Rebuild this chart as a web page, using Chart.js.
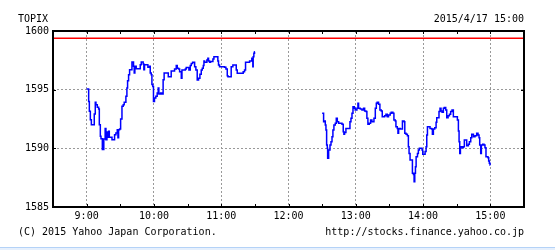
<!DOCTYPE html>
<html>
<head>
<meta charset="utf-8">
<script src="https://cdn.jsdelivr.net/npm/chart.js@4"></script>
<style>
body{margin:0;background:#fff;}
#wrap{position:relative;width:555px;height:250px;font-family:"DejaVu Sans Mono",monospace;font-size:10px;color:#000;}
.t{position:absolute;line-height:12px;white-space:pre;}
#band1{position:absolute;left:0;top:247px;width:555px;height:1px;background:#b4d2f7;}
#band2{position:absolute;left:0;top:248px;width:555px;height:2px;background:#e6f0fd;}
</style>
</head>
<body>
<div id="wrap">
<canvas id="mainGraph" width="555" height="250"></canvas>
<div class="t" style="left:18px;top:13px">TOPIX</div>
<div class="t" style="right:31px;top:13px">2015/4/17 15:00</div>
<div class="t" style="left:18px;top:226px">(C) 2015 Yahoo Japan Corporation.</div>
<div class="t" style="right:31px;top:226px">http://stocks.finance.yahoo.co.jp</div>
<div id="band1"></div><div id="band2"></div>
</div>
<script>
// minutes after 9:00
const AM_MINUTES = [0,1.8,2.4,3.3,4.2,6.8,7.7,8.3,9.5,10.7,11.3,12.2,12.8,14,15.3,16.5,17.2,18.1,19,19.6,20.2,22.6,24.9,26.1,27.3,27.9,28.5,29.4,30.3,31.5,32.6,33.5,35,35.9,36.5,37.4,38.3,40.4,41.8,42.4,43,44.2,47.8,48.7,50.4,51,51.6,54.6,56,56.7,57.6,58.2,59,59.6,60.5,61.7,62.9,63.8,64.4,65.9,67,68.2,69.1,72.8,75.4,78.4,79.9,80.8,82,82.9,84.4,85,88,88.8,91.2,92.4,93.3,94.5,96.3,97.4,98.6,99.8,101,102.2,103.1,104,104.6,105.2,107.2,108.1,108.7,109.6,110.5,112.6,113.5,116.5,117,117.6,118.5,123,124.2,125.4,126,128.9,130.4,133.4,134.3,139.6,140.8,141.7,145.3,147.3,148.2,148.5,149.1,149.7,150];
const AM_VALUES = [1595.05,1594.0,1593.15,1592.44,1592.0,1592.93,1593.92,1593.72,1593.5,1593.35,1592.0,1591.02,1590.82,1589.9,1590.8,1591.7,1590.74,1591.39,1590.94,1591.45,1590.94,1590.74,1591.16,1591.31,1591.59,1590.9,1591.59,1591.65,1592.5,1593.58,1593.72,1593.92,1594.43,1595.14,1595.77,1596.28,1596.7,1597.36,1596.99,1596.42,1596.99,1596.79,1597.13,1597.36,1597.19,1596.7,1597.13,1596.9,1596.99,1596.42,1596.28,1595.43,1595.28,1594.0,1594.29,1594.43,1594.72,1595.14,1594.63,1594.72,1594.63,1595.85,1596.42,1596.1,1596.6,1596.76,1597.05,1596.82,1596.76,1596.53,1595.97,1596.68,1596.76,1596.88,1596.68,1597.05,1597.24,1597.33,1596.96,1596.68,1595.82,1595.97,1596.31,1596.68,1596.82,1597.05,1597.44,1597.33,1597.53,1597.67,1597.44,1597.33,1597.39,1597.61,1597.81,1597.81,1597.44,1597.1,1596.96,1596.9,1596.76,1596.19,1596.11,1596.96,1597.1,1596.68,1596.39,1596.53,1596.68,1597.33,1597.44,1597.67,1596.96,1597.81,1598.1,1598.24,1598.24];
const PM_MINUTES = [210,211.3,211.9,212.8,213.4,214,214.6,214.9,215.8,217,217.9,218.8,219.6,220.5,221.7,222.6,223.5,224.7,227.7,228.8,229.4,230,231.2,234.8,235.7,236.6,237.5,238.7,239.5,241,241.9,242.5,244,245.5,247,247.9,249.1,249.9,250.8,252,253.2,254.4,256.2,257.4,258.3,259.1,260.3,261.5,262.7,263.6,265.7,266.9,268.1,269.2,270.7,271.6,273.1,274,275.2,275.8,277,277.6,278.2,279.6,281.6,283.1,283.7,284.8,286,286.9,287.5,288.4,290.5,291.4,292,292.6,293.2,293.8,295,295.8,296.7,299.1,299.7,301.8,302.7,303.3,303.9,306.2,307.7,308.3,309.2,310.4,311.6,312.2,314.2,315.1,316,316.9,318.1,319,320.2,321.1,322.3,323.5,324.6,325.8,327,330.6,331.5,332.1,332.7,333.3,334.7,335.9,336.8,338.3,338.9,340.4,341.3,342.5,343.4,344.9,346.3,347.8,349,349.9,350.5,351.4,352,353.2,354.3,355.2,356.1,357.9,358.5,359.1,359.7,360];
const PM_VALUES = [1592.98,1592.27,1592.33,1591.99,1591.56,1590.28,1590.0,1589.15,1589.86,1590.28,1590.57,1590.99,1591.56,1591.99,1592.13,1592.56,1592.27,1592.13,1592.05,1591.42,1591.19,1591.36,1591.7,1592.27,1592.56,1592.98,1593.55,1593.41,1593.27,1593.41,1593.84,1593.41,1593.35,1593.27,1593.41,1593.18,1593.13,1592.56,1592.05,1592.13,1592.41,1592.27,1592.56,1593.41,1593.84,1593.92,1593.75,1593.27,1593.18,1592.7,1592.78,1592.9,1592.7,1592.84,1592.98,1593.07,1592.98,1592.41,1592.33,1591.85,1591.7,1591.28,1591.7,1591.65,1592.33,1592.27,1591.28,1591.19,1591.08,1590.14,1589.57,1589.01,1587.87,1587.78,1587.16,1587.87,1588.44,1589.29,1589.57,1589.86,1590.0,1589.86,1589.49,1589.72,1590.14,1591.14,1591.85,1591.7,1591.65,1591.19,1591.65,1591.76,1592.22,1592.61,1593.13,1593.41,1593.18,1593.07,1593.41,1593.47,1593.27,1592.61,1592.78,1592.9,1593.13,1593.27,1592.7,1592.41,1591.48,1590.57,1589.57,1590.14,1590.06,1590.14,1590.71,1590.71,1590.23,1590.34,1590.57,1590.91,1591.19,1590.99,1591.08,1591.28,1591.14,1590.91,1590.28,1589.57,1590.28,1590.34,1590.28,1590.06,1589.29,1589.2,1588.92,1588.72,1588.58,1588.58];
const PREV_CLOSE = 1599.38;
const X_RANGE = [-30, 390];
const HOUR_TICKS = [0,60,120,180,240,300,360];
const HOUR_LABELS = ['9:00','10:00','11:00','12:00','13:00','14:00','15:00'];
const HALF_HOUR_TICKS = [0,30,60,90,120,150,180,210,240,270,300,330,360];
const PRICE_TICKS = [1585,1590,1595,1600];

var ctx = document.getElementById('mainGraph').getContext('2d');
const FONT = {family: '"DejaVu Sans Mono", monospace', size: 10};

function pts(xs, ys) {
  return xs.map((m, i) => ({x: m, y: ys[i]}));
}

// black frame and the little inward tick marks
const frame = {
  id: 'frame',
  afterDatasetsDraw(chart) {
    const {ctx, chartArea: a, scales: {x, y}} = chart;
    ctx.save();
    ctx.strokeStyle = '#000';
    ctx.lineWidth = 1;
    ctx.beginPath();
    HALF_HOUR_TICKS.forEach(m => {
      const px = Math.round(x.getPixelForValue(m)) + 0.5;
      ctx.moveTo(px, a.top); ctx.lineTo(px, a.top + 3);
      ctx.moveTo(px, a.bottom); ctx.lineTo(px, a.bottom - 3);
    });
    PRICE_TICKS.slice(1, -1).forEach(v => {
      const py = Math.round(y.getPixelForValue(v)) + 0.5;
      ctx.moveTo(a.left, py); ctx.lineTo(a.left + 3, py);
      ctx.moveTo(a.right, py); ctx.lineTo(a.right - 3, py);
    });
    ctx.stroke();
    ctx.lineWidth = 2;
    ctx.strokeRect(a.left, a.top, a.right - a.left, a.bottom - a.top);
    ctx.restore();
  }
};

var chart = new Chart(ctx, {
  type: 'line',
  data: {
    datasets: [
      {data: pts(X_RANGE, [PREV_CLOSE, PREV_CLOSE]), borderColor: '#ff0000', borderWidth: 1.5},
      {data: pts(AM_MINUTES, AM_VALUES), borderColor: '#0000ff', borderWidth: 1.5, stepped: true},
      {data: pts(PM_MINUTES, PM_VALUES), borderColor: '#0000ff', borderWidth: 1.5, stepped: true}
    ]
  },
  options: {
    responsive: false,
    animation: false,
    layout: {padding: {left: 0, top: 31, right: 31, bottom: 23}},
    elements: {point: {radius: 0}, line: {tension: 0}},
    plugins: {legend: {display: false}, tooltip: {enabled: false}},
    scales: {
      x: {
        type: 'linear',
        min: X_RANGE[0],
        max: X_RANGE[1],
        afterBuildTicks: s => { s.ticks = HOUR_TICKS.map(v => ({value: v})); },
        afterFit: s => { s.height = 20; },
        ticks: {color: '#000', font: FONT, padding: 3, autoSkip: false, maxRotation: 0,
          callback: (v, i) => HOUR_LABELS[i]},
        grid: {color: '#999', drawTicks: false},
        border: {display: false, dash: [2, 2]}
      },
      y: {
        min: PRICE_TICKS[0],
        max: PRICE_TICKS[PRICE_TICKS.length - 1],
        afterBuildTicks: s => { s.ticks = PRICE_TICKS.map(v => ({value: v})); },
        afterFit: s => { s.width = 53; },
        ticks: {color: '#000', font: FONT, padding: 4, callback: v => String(v)},
        grid: {drawTicks: false,
          color: c => (c.tick && (c.tick.value === 1585 || c.tick.value === 1600)) ? 'rgba(0,0,0,0)' : '#999'},
        border: {display: false, dash: [2, 2]}
      }
    }
  },
  plugins: [frame]
});
</script>
</body>
</html>
